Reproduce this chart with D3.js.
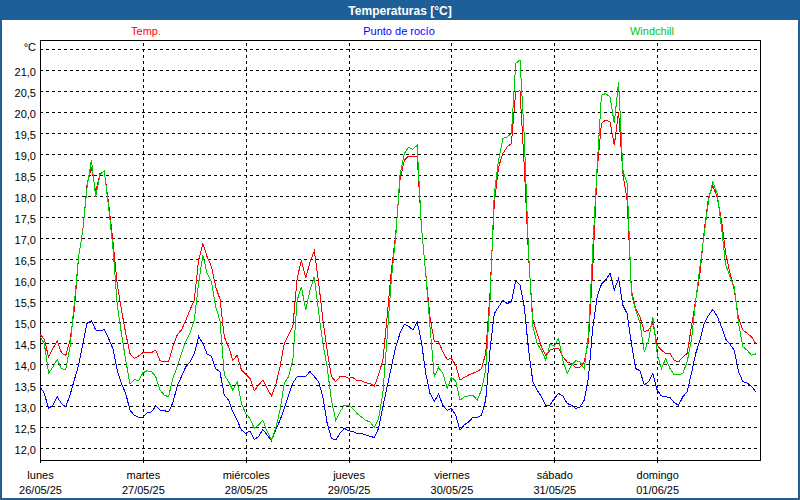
<!DOCTYPE html>
<html>
<head>
<meta charset="utf-8">
<script src="https://cdn.jsdelivr.net/npm/d3@7"></script>
<style>
  body { margin: 0; background: #fff; }
  text { font-family: "Liberation Sans", Arial, sans-serif; }
</style>
</head>
<body>
<svg id="chart"></svg>
<script>
const svgWidth = 800;
const svgHeight = 500;

// hourly readings, 26/05/25 00:00 -> 01/06/25 23:00
const temp = [
  14.72,14.6,14.18,14.38,14.56,14.28,14.21,14.58,15.3,16.56,17.2,18.3,18.7,18.1,18.55,18.6,17.83,16.96,15.93,15.3,14.74,14.26,14.14,14.2,
  14.28,14.28,14.28,14.34,14.09,14.06,14.06,14.42,14.7,14.82,15.05,15.3,15.53,16.48,16.88,16.56,16.33,15.85,15.55,14.66,14.42,14.1,14.22,13.87,
  13.77,13.67,13.37,13.51,13.63,13.43,13.25,13.51,13.94,14.5,14.7,14.9,16.05,16.48,16.05,16.44,16.7,15.97,15.06,14.34,13.71,13.59,13.71,13.72,
  13.67,13.69,13.61,13.61,13.56,13.55,13.48,13.75,14.1,15.13,16.25,17.1,18.39,18.86,18.96,18.94,18.96,17.28,16.17,15.13,14.54,14.54,14.3,14.12,
  14.14,13.98,13.63,13.69,13.75,13.79,13.83,13.9,14.26,15.69,17.83,18.7,19.02,19.18,19.26,20.49,20.52,18.7,16.56,15.06,14.74,14.42,14.22,14.34,
  14.38,14.38,14.18,14.06,14.02,13.93,13.94,14.06,14.58,16.33,18.63,19.74,19.82,19.78,19.22,20.02,18.55,17.91,15.77,15.33,15.13,14.78,14.82,14.98,
  14.46,14.34,14.26,14.26,14.1,14.06,14.18,14.26,14.9,15.53,16.17,17.2,17.99,18.25,17.99,17.44,16.65,16.17,15.77,15.1,14.82,14.74,14.66,14.5
];
const dewPoint = [
  13.48,13.31,12.95,13.03,13.23,13.07,12.99,13.27,13.63,13.98,14.5,14.99,15.04,14.82,14.8,14.83,14.62,14.38,13.87,13.55,13.31,12.91,12.79,12.74,
  12.74,12.85,12.87,13.01,12.91,12.9,12.87,13.09,13.48,13.71,13.94,14.06,14.26,14.67,14.5,14.25,14.2,13.9,13.82,13.27,13.15,12.87,12.67,12.44,
  12.36,12.42,12.21,12.28,12.45,12.32,12.18,12.44,12.67,12.95,13.27,13.56,13.71,13.71,13.72,13.83,13.71,13.59,13.23,12.6,12.24,12.2,12.36,12.48,
  12.42,12.4,12.36,12.36,12.32,12.29,12.26,12.48,12.99,13.47,13.94,14.42,14.74,14.96,14.91,14.82,15.02,14.54,13.79,13.31,13.12,13.29,13.03,12.91,
  12.95,12.79,12.44,12.56,12.63,12.74,12.74,12.79,13.15,14.34,15.21,15.37,15.53,15.45,15.49,15.99,15.89,15.37,14.34,13.59,13.39,13.23,13.03,13.03,
  13.19,13.31,13.25,13.07,13.03,12.95,12.99,13.15,13.71,14.9,15.61,15.91,16.01,16.17,15.77,16.05,15.41,15.21,14.5,13.9,13.85,13.51,13.59,13.79,
  13.39,13.25,13.23,13.21,13.09,13.03,13.23,13.35,13.79,14.26,14.58,14.98,15.17,15.31,15.15,14.9,14.6,14.48,14.34,13.83,13.59,13.56,13.48,13.35
];
const windchill = [
  14.66,14.5,13.79,13.94,14.12,13.9,13.88,14.42,15.45,16.56,17.2,18.23,18.87,17.99,18.51,18.61,17.75,16.8,15.45,14.74,14.1,13.53,13.64,13.61,
  13.8,13.85,13.83,13.71,13.39,13.27,13.23,13.67,13.94,14.26,14.54,14.74,15.06,15.93,16.6,16.17,15.97,15.37,15.04,13.75,13.59,13.39,13.59,13.07,
  12.83,12.71,12.48,12.56,12.67,12.4,12.2,12.48,12.91,13.55,13.71,14.1,15.53,15.85,15.29,15.77,16.09,15.25,14.5,13.94,13.15,12.67,12.87,13.03,
  13.03,12.95,12.83,12.75,12.67,12.63,12.5,12.71,13.31,14.66,16.05,17.04,18.51,19.02,19.17,19.12,19.22,17.28,16.17,14.9,13.71,13.93,13.79,13.43,
  13.69,13.61,13.15,13.23,13.25,13.27,13.15,13.39,13.87,15.53,18.07,18.87,19.38,19.42,19.5,21.17,21.25,19.42,16.64,14.9,14.5,14.34,14.1,14.48,
  14.44,14.62,14.1,13.79,13.98,14.09,14.06,13.9,14.74,16.8,18.71,20.41,20.45,20.37,19.74,20.73,18.63,18.31,15.69,15.29,14.98,14.3,14.58,15.13,
  14.26,13.9,14.14,13.9,13.75,13.75,13.79,14.06,14.58,15.53,16.33,17.12,17.91,18.35,18.07,17.28,16.37,16.09,15.85,14.98,14.42,14.34,14.22,14.25
];

const dayNames = ["lunes", "martes", "miércoles", "jueves", "viernes", "sábado", "domingo"];
const dayDates = ["26/05/25", "27/05/25", "28/05/25", "29/05/25", "30/05/25", "31/05/25", "01/06/25"];
const dayHours = [0, 24, 48, 72, 96, 120, 144];
const yTicks = [12.0, 12.5, 13.0, 13.5, 14.0, 14.5, 15.0, 15.5, 16.0, 16.5, 17.0, 17.5, 18.0, 18.5, 19.0, 19.5, 20.0, 20.5, 21.0, 21.5];

const series = [
  { name: "Temp.", values: temp, color: "#ff0000", lx: 146 },
  { name: "Punto de rocío", values: dewPoint, color: "#0000ff", lx: 399 },
  { name: "Windchill", values: windchill, color: "#00c800", lx: 652 }
];

const blue = "#1d5f96";
const margin = { top: 40, right: 40, bottom: 40, left: 40 };
const plotWidth = svgWidth - margin.left - margin.right;
const plotHeight = svgHeight - margin.top - margin.bottom;

const svg = d3.select("#chart")
  .attr("width", svgWidth)
  .attr("height", svgHeight);

// title bar + outer frame
svg.append("rect")
  .attr("x", 0).attr("y", 0)
  .attr("width", svgWidth).attr("height", 20)
  .attr("fill", blue);
svg.append("rect")
  .attr("x", 1).attr("y", 1)
  .attr("width", svgWidth - 2).attr("height", svgHeight - 2)
  .attr("fill", "none")
  .attr("stroke", blue)
  .attr("stroke-width", 2);
svg.append("text")
  .attr("x", svgWidth / 2).attr("y", 14.5)
  .attr("text-anchor", "middle")
  .attr("fill", "#fff")
  .attr("font-weight", "bold")
  .attr("font-size", 12)
  .text("Temperaturas [°C]");

// legend
svg.selectAll(".legend")
  .data(series)
  .enter().append("text")
  .attr("class", "legend")
  .attr("x", d => d.lx)
  .attr("y", 35)
  .attr("text-anchor", "middle")
  .attr("font-size", 11)
  .attr("fill", d => d.color)
  .text(d => d.name);

const x = d3.scaleLinear()
  .domain([0, 168])
  .range([margin.left, margin.left + plotWidth]);

const y = d3.scaleLinear()
  .domain([11.725, 21.725])
  .range([margin.top + plotHeight, margin.top]);

const fmt = d => d === 21.5 ? "°C" : d3.format(".1f")(d).replace(".", ",");

// horizontal grid + y labels
const gy = svg.append("g")
  .attr("transform", `translate(${margin.left},0)`)
  .call(d3.axisLeft(y).tickValues(yTicks).tickSize(-plotWidth).tickPadding(4).tickFormat(fmt));
gy.select(".domain").remove();
gy.selectAll("line")
  .attr("stroke", "#000")
  .attr("stroke-dasharray", "3,3")
  .attr("shape-rendering", "crispEdges");
gy.selectAll("text")
  .attr("font-family", "Liberation Sans, Arial, sans-serif")
  .attr("font-size", 11)
  .attr("fill", "#000")
  .attr("dy", d => d === 21.5 ? "0.05em" : "0.45em");

// vertical grid
const gx = svg.append("g")
  .attr("transform", `translate(0,${margin.top + plotHeight})`)
  .call(d3.axisBottom(x).tickValues(dayHours.slice(1)).tickSize(-plotHeight).tickFormat(""));
gx.select(".domain").remove();
gx.selectAll("line")
  .attr("stroke", "#000")
  .attr("stroke-dasharray", "3,3")
  .attr("shape-rendering", "crispEdges");

// day ticks + labels
const gd = svg.append("g")
  .attr("transform", `translate(0,${margin.top + plotHeight})`)
  .call(d3.axisBottom(x).tickValues(dayHours).tickSize(3).tickFormat(""));
gd.select(".domain").remove();
gd.selectAll("line").attr("shape-rendering", "crispEdges");
gd.selectAll(".tick text").remove();
gd.selectAll(".tick").each(function (d, i) {
  const tick = d3.select(this);
  [dayNames[i], dayDates[i]].forEach((label, k) => {
    tick.append("text")
      .attr("x", 0)
      .attr("y", 19 + k * 15)
      .attr("text-anchor", "middle")
      .attr("font-family", "Liberation Sans, Arial, sans-serif")
      .attr("font-size", 11)
      .attr("fill", "#000")
      .text(label);
  });
});

// plot frame
svg.append("rect")
  .attr("x", margin.left).attr("y", margin.top)
  .attr("width", plotWidth).attr("height", plotHeight)
  .attr("fill", "none")
  .attr("stroke", "#000")
  .attr("shape-rendering", "crispEdges");

// lines
const line = d3.line()
  .x((d, i) => x(i))
  .y(d => y(d));

svg.selectAll(".series")
  .data(series)
  .enter().append("path")
  .attr("class", "series")
  .attr("d", d => line(d.values))
  .attr("fill", "none")
  .attr("stroke", d => d.color)
  .attr("stroke-width", 1)
  .attr("shape-rendering", "crispEdges");
</script>
</body>
</html>
